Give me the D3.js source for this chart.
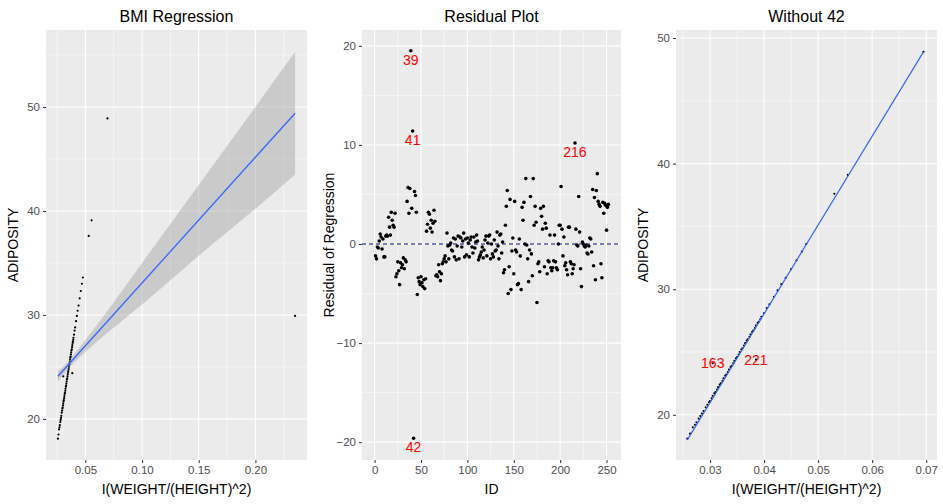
<!DOCTYPE html>
<html><head><meta charset="utf-8">
<script src="https://cdn.jsdelivr.net/npm/d3@7"></script>
<style>
body { margin: 0; background: #fff; }
text { font-family: "Liberation Sans", Arial, sans-serif; }
</style></head>
<body><div id="vis"></div>
<script>
// ---- data ----
var bmi = [0.0258,0.0263,0.0268,0.0272,0.0275,0.0279,0.0282,0.0285,0.0288,0.0292,0.0295,0.0298,0.0300,0.0303,0.0305,0.0308,
           0.0310,0.0313,0.0315,0.0318,0.0320,0.0323,0.0325,0.0328,0.0330,0.0333,0.0335,0.0338,
           0.0340,0.0343,0.0345,0.0348,0.0350,0.0353,0.0355,0.0358,0.0360,0.0363,0.0365,0.0368,0.0370,0.0373,0.0375,0.0378,
           0.0380,0.0383,0.0385,0.0388,0.0390,0.0393,0.0395,0.0400,0.0405,
           0.0410,0.0418,0.0425,0.0432,0.0440,0.0450,0.0460,0.0470,0.0478,0.0530,0.0555,0.0695];
var adiposity = [18.1,18.5,19.0,19.2,19.4,19.7,19.9,20.1,20.3,20.6,20.8,21.0,21.1,21.3,21.5,21.7,
                 21.8,22.0,22.2,22.4,22.5,22.7,22.9,23.1,23.2,23.4,23.6,23.8,
                 23.9,24.1,24.3,24.5,24.6,24.8,25.0,25.2,25.3,25.5,25.7,25.9,26.0,26.2,26.4,26.6,
                 26.7,26.9,27.1,27.3,27.4,27.6,27.8,28.1,28.5,
                 28.8,29.4,29.9,30.4,30.9,31.6,32.3,33.0,33.6,37.6,39.1,48.9];
var extraBmi = [0.0305, 0.0385];        // ids 163, 221
var extraAdi = [24.1, 24.4];
var outBmi = [0.235], outAdi = [29.9]; // id 42

var fitX = [0.0258, 0.235], fitY = [24.1, 49.4];
var ciX  = [0.0258, 0.034, 0.04, 0.06, 0.10, 0.15, 0.20, 0.235];
var ciLo = [23.6, 24.7, 25.4, 27.4, 31.0, 35.7, 40.2, 43.5];
var ciHi = [24.6, 25.4, 26.2, 29.0, 35.0, 42.5, 50.0, 55.3];
var fit3X = [0.0258, 0.0695], fit3Y = [18.0, 48.9];

var residuals = [
 -1.2,-1.5,-0.3,-0.4,0.3,1.0,0.7,-0.5,0.5,-1.3,
 -1.3,0.8,0.9,0.8,2.7,1.7,0.9,3.2,2.4,1.9,
 1.7,3.1,-3.3,-3.0,-1.8,-2.7,-4.1,-1.9,-2.4,-2.1,
 -1.4,-2.5,-1.6,-1.8,4.3,5.7,3.1,5.6,19.5,3.6,
 11.4,-19.6,5.3,4.9,3.2,-5.1,-3.4,-3.8,-4.1,-3.3,
 -3.9,-4.3,-3.6,-4.5,-3.5,1.3,2.0,3.2,3.0,1.6,
 2.4,1.2,2.1,3.4,2.3,-3.2,-3.1,-3.3,-2.1,-2.8,
 -3.7,-3.0,-2.0,-1.8,-1.5,-1.2,-1.8,1.1,-0.2,-1.5,
 -0.1,0.1,-0.6,-0.7,0.6,-1.3,0.5,-1.6,-0.2,0.8,
 -1.5,0.7,0.6,-0.3,0.3,1.1,-1.3,0.5,-1.1,0.6,
 0.1,-1.3,0.4,0.7,-0.3,-0.9,0.7,-0.4,0.2,0.9,
 0.3,-1.6,-1.3,-1.1,-0.8,-0.3,-1.4,-0.6,0.4,0.8,
 -1.2,0.1,0.8,0.9,-1.5,0.0,-1.0,-1.3,0.4,-0.7,
 -0.6,1.2,-0.2,-1.5,0.9,1.0,-0.9,0.2,-2.9,-2.6,
 1.9,3.8,5.4,-5.0,-2.3,4.5,-4.6,-0.7,0.6,-3.0,
 4.3,-0.6,-0.8,-4.1,-4.0,0.5,-1.2,-4.6,3.7,2.4,
 4.2,0.0,6.6,-0.1,-1.5,-3.8,-0.6,4.8,-1.0,-3.2,
 6.6,1.9,3.8,2.2,-5.9,-2.0,-1.8,-2.8,3.6,2.8,
 1.5,3.8,-2.3,2.1,1.6,-3.0,-1.7,-1.8,0.9,-2.4,
 -2.7,-2.4,-1.7,0.9,-1.8,-2.4,-2.6,0.0,1.9,1.9,
 5.8,1.5,-1.2,0.7,-2.2,-1.9,-2.6,-3.1,1.7,1.7,
 -1.8,-2.0,-3.0,-2.5,-2.1,10.2,1.5,-0.1,-0.2,4.8,
 1.2,-2.5,-4.3,0.2,0.0,-0.2,-0.3,-0.1,-0.9,-1.0,
 -0.2,0.6,0.5,-0.8,5.5,-2.2,4.7,-3.6,5.4,7.1,
 4.3,4.0,3.8,-2.0,-3.4,4.2,3.1,4.1,3.9,1.4,3.7,4.0];
var resLabels = [39, 41, 42, 216];

// ---- layout ----
var width = 943, height = 504;
var svg = d3.select('#vis').append('svg').attr('width', width).attr('height', height);

function panel(o) {
    var x = d3.scaleLinear().domain(o.xd).range([o.left, o.right]);
    var y = d3.scaleLinear().domain(o.yd).range([o.bottom, o.top]);
    var g = svg.append('g');
    g.append('rect').attr('x', o.left).attr('y', o.top)
        .attr('width', o.right - o.left).attr('height', o.bottom - o.top).attr('fill', '#ebebeb');
    o.xminor.forEach(function(v) {
        g.append('line').attr('x1', x(v)).attr('x2', x(v)).attr('y1', o.top).attr('y2', o.bottom)
            .attr('stroke', '#fff').attr('stroke-width', 0.5);
    });
    o.yminor.forEach(function(v) {
        g.append('line').attr('y1', y(v)).attr('y2', y(v)).attr('x1', o.left).attr('x2', o.right)
            .attr('stroke', '#fff').attr('stroke-width', 0.5);
    });
    o.xt.forEach(function(v) {
        g.append('line').attr('x1', x(v)).attr('x2', x(v)).attr('y1', o.top).attr('y2', o.bottom)
            .attr('stroke', '#fff').attr('stroke-width', 1.1);
    });
    o.yt.forEach(function(v) {
        g.append('line').attr('y1', y(v)).attr('y2', y(v)).attr('x1', o.left).attr('x2', o.right)
            .attr('stroke', '#fff').attr('stroke-width', 1.1);
    });
    var xa = svg.append('g').attr('transform', 'translate(0,' + o.bottom + ')')
        .call(d3.axisBottom(x).tickValues(o.xt).tickFormat(o.xf).tickSize(3).tickPadding(3));
    var ya = svg.append('g').attr('transform', 'translate(' + o.left + ',0)')
        .call(d3.axisLeft(y).tickValues(o.yt).tickFormat(d3.format('d')).tickSize(3).tickPadding(3));
    [xa, ya].forEach(function(a) {
        a.select('.domain').remove();
        a.selectAll('line').attr('stroke', '#333');
        a.selectAll('text').attr('fill', '#4d4d4d').style('font-size', '11.5px');
    });
    svg.append('text').attr('x', (o.left + o.right) / 2).attr('y', 22).attr('text-anchor', 'middle')
        .style('font-size', '16px').text(o.title);
    svg.append('text').attr('x', (o.left + o.right) / 2).attr('y', 494).attr('text-anchor', 'middle')
        .style('font-size', '14px').text(o.xlab);
    svg.append('text').attr('transform', 'translate(' + (o.left - 28) + ',' + ((o.top + o.bottom) / 2) + ') rotate(-90)')
        .attr('text-anchor', 'middle').style('font-size', '14px').text(o.ylab);
    return { g: g, x: x, y: y };
}

var bmiFmt = d3.format('.2f');

// Panel 1: BMI Regression
var p1 = panel({ left: 46, right: 307, top: 30, bottom: 460, xd: [0.0153, 0.2455], yd: [16.05, 57.4],
    xt: [0.05, 0.10, 0.15, 0.20], xminor: [0.025, 0.075, 0.125, 0.175, 0.225], xf: bmiFmt,
    yt: [20, 30, 40, 50], yminor: [25, 35, 45, 55],
    title: 'BMI Regression', xlab: 'I(WEIGHT/(HEIGHT)^2)', ylab: 'ADIPOSITY' });
var all1x = bmi.concat(extraBmi, outBmi), all1y = adiposity.concat(extraAdi, outAdi);
p1.g.selectAll('.pt').data(all1x).enter().append('circle')
    .attr('cx', function(d) { return p1.x(d); })
    .attr('cy', function(d, i) { return p1.y(all1y[i]); })
    .attr('r', 1.1).attr('fill', '#000');
p1.g.append('path').datum(ciX)
    .attr('d', d3.area().x(function(d) { return p1.x(d); })
        .y0(function(d, i) { return p1.y(ciLo[i]); }).y1(function(d, i) { return p1.y(ciHi[i]); })
        .curve(d3.curveMonotoneX))
    .attr('fill', '#999').attr('fill-opacity', 0.4);
p1.g.append('path').datum(fitX)
    .attr('d', d3.line().x(function(d) { return p1.x(d); }).y(function(d, i) { return p1.y(fitY[i]); }))
    .attr('stroke', '#3366ff').attr('stroke-width', 1.3).attr('fill', 'none');

// Panel 2: Residual Plot
var p2 = panel({ left: 362, right: 621, top: 30, bottom: 460, xd: [-13.6, 265.6], yd: [-21.8, 21.6],
    xt: [0, 50, 100, 150, 200, 250], xminor: [25, 75, 125, 175, 225], xf: d3.format('d'),
    yt: [-20, -10, 0, 10, 20], yminor: [-15, -5, 5, 15],
    title: 'Residual Plot', xlab: 'ID', ylab: 'Residual of Regression' });
p2.g.append('line').attr('x1', 362).attr('x2', 621).attr('y1', p2.y(0)).attr('y2', p2.y(0))
    .attr('stroke', '#00008b').attr('stroke-dasharray', '4,3').attr('stroke-width', 1);
p2.g.selectAll('.pt').data(residuals).enter().append('circle')
    .attr('cx', function(d, i) { return p2.x(i + 1); })
    .attr('cy', function(d) { return p2.y(d); })
    .attr('r', 1.8).attr('fill', '#000');
p2.g.selectAll('.lab').data(resLabels).enter().append('text')
    .attr('x', function(d) { return p2.x(d); })
    .attr('y', function(d) { return p2.y(residuals[d - 1]) + 14; })
    .attr('text-anchor', 'middle').attr('fill', '#ff0000').style('font-size', '14px')
    .text(function(d) { return d; });

// Panel 3: Without 42
var p3 = panel({ left: 676, right: 937, top: 30, bottom: 460, xd: [0.0237, 0.0720], yd: [16.4, 50.64],
    xt: [0.03, 0.04, 0.05, 0.06, 0.07], xminor: [0.025, 0.035, 0.045, 0.055, 0.065], xf: bmiFmt,
    yt: [20, 30, 40, 50], yminor: [25, 35, 45],
    title: 'Without 42', xlab: 'I(WEIGHT/(HEIGHT)^2)', ylab: 'ADIPOSITY' });
var all3x = bmi.concat(extraBmi), all3y = adiposity.concat(extraAdi);
p3.g.selectAll('.pt').data(all3x).enter().append('circle')
    .attr('cx', function(d) { return p3.x(d); })
    .attr('cy', function(d, i) { return p3.y(all3y[i]); })
    .attr('r', 1.1).attr('fill', '#000');
p3.g.append('path').datum(fit3X)
    .attr('d', d3.line().x(function(d) { return p3.x(d); }).y(function(d, i) { return p3.y(fit3Y[i]); }))
    .attr('stroke', '#3366ff').attr('stroke-width', 1.2).attr('fill', 'none');
p3.g.selectAll('.lab').data([163, 221]).enter().append('text')
    .attr('x', function(d, i) { return p3.x(extraBmi[i]); })
    .attr('y', function(d, i) { return p3.y(extraAdi[i]) + 5; })
    .attr('text-anchor', 'middle').attr('fill', '#ff0000').style('font-size', '14px')
    .text(function(d) { return d; });
</script></body></html>
